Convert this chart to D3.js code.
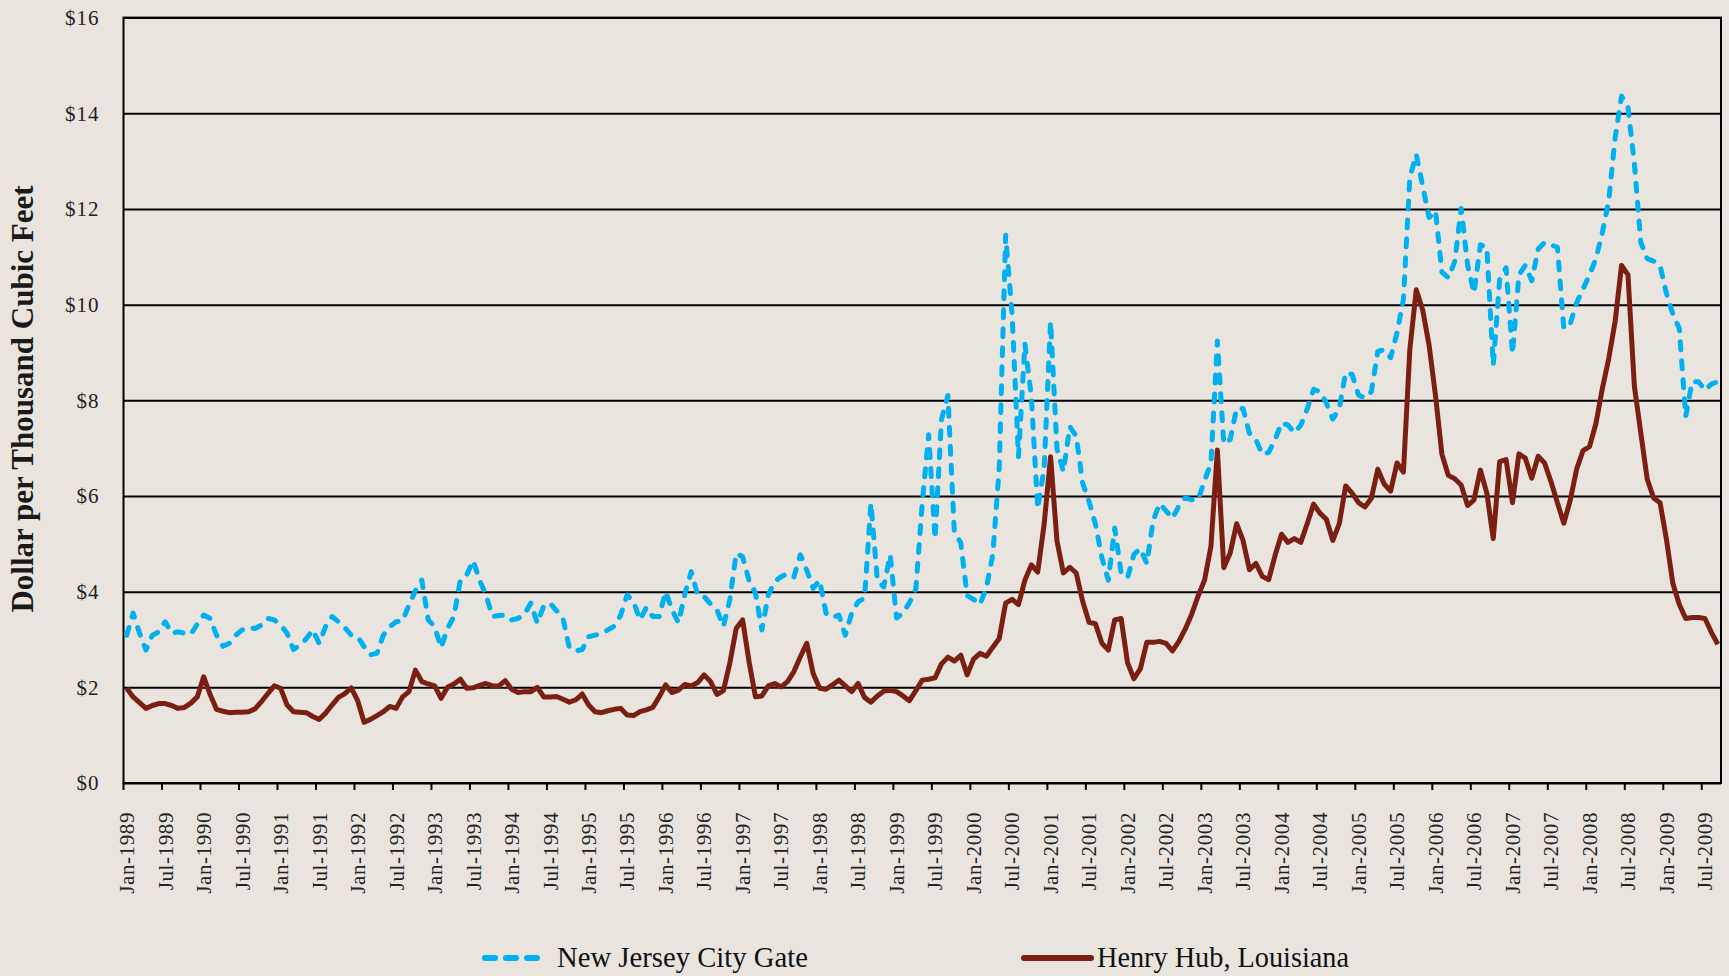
<!DOCTYPE html>
<html>
<head>
<meta charset="utf-8">
<script src="https://cdn.jsdelivr.net/npm/d3@7"></script>
<style>
body { margin: 0; background: #e9e5de; }
svg { display: block; font-family: "Liberation Serif", "Times New Roman", serif; }
</style>
</head>
<body>
<script>
// monthly prices, Jan-1989 .. Sep-2009 ($ per thousand cubic feet)
var newJersey = [
 3.09,3.55,3.13,2.78,3.09,3.16,3.37,3.13,3.16,3.13,3.11,3.32,
 3.51,3.44,3.09,2.86,2.92,3.09,3.20,3.25,3.23,3.30,3.44,3.41,
 3.30,3.13,2.79,2.88,3.02,3.20,2.92,3.27,3.48,3.37,3.25,3.09,
 3.06,2.85,2.68,2.71,3.09,3.27,3.37,3.39,3.72,4.02,4.24,3.41,
 3.27,2.83,3.23,3.48,4.24,4.35,4.65,4.24,3.93,3.48,3.50,3.51,
 3.41,3.44,3.53,3.76,3.34,3.70,3.76,3.60,3.44,2.82,2.76,2.79,
 3.06,3.09,3.12,3.20,3.28,3.51,3.93,3.79,3.41,3.67,3.48,3.48,
 4.00,3.62,3.35,3.95,4.42,3.93,3.90,3.74,3.62,3.27,3.83,4.80,
 4.73,4.24,3.97,3.20,3.93,4.21,4.31,4.38,4.31,4.77,4.45,4.07,
 4.24,3.55,3.46,3.51,3.09,3.55,3.79,3.86,5.85,4.24,4.10,4.77,
 3.45,3.55,3.77,4.05,5.85,7.28,5.10,7.60,8.10,5.25,5.02,3.92,
 3.84,3.73,4.08,4.78,6.59,11.45,9.80,6.82,9.18,8.08,5.73,6.59,
 9.65,6.98,6.51,7.45,7.25,6.27,5.88,5.41,4.71,4.24,5.33,4.39,
 4.29,4.78,4.90,4.59,5.49,5.84,5.69,5.53,5.79,5.96,5.92,5.92,
 6.32,6.69,9.24,7.09,7.18,7.83,7.83,7.31,7.18,6.87,6.91,7.18,
 7.53,7.48,7.32,7.48,7.82,8.23,8.18,7.94,7.61,7.83,8.58,8.54,
 8.11,8.05,8.18,9.02,9.06,8.89,9.41,10.11,12.66,13.14,12.48,11.82,
 11.96,10.68,10.56,10.90,12.01,10.83,10.24,11.25,11.20,8.73,10.52,10.77,
 8.97,10.62,10.82,10.50,11.16,11.30,11.25,11.20,9.50,9.60,10.04,10.33,
 10.62,10.96,11.50,12.17,13.49,14.36,14.12,12.95,11.30,10.96,10.91,10.82,
 10.23,9.80,9.50,7.66,8.39,8.39,8.21,8.34,8.39
];
var henryHub = [
 1.98,1.80,1.68,1.56,1.62,1.66,1.66,1.62,1.56,1.58,1.67,1.80,
 2.22,1.85,1.54,1.50,1.47,1.48,1.48,1.49,1.55,1.70,1.87,2.03,
 1.98,1.63,1.49,1.48,1.47,1.39,1.33,1.46,1.63,1.79,1.87,1.99,
 1.72,1.27,1.33,1.41,1.49,1.60,1.56,1.80,1.91,2.36,2.12,2.07,
 2.03,1.77,2.00,2.07,2.17,1.98,1.99,2.04,2.08,2.03,2.03,2.14,
 1.96,1.89,1.91,1.91,2.00,1.80,1.80,1.81,1.75,1.69,1.74,1.86,
 1.63,1.49,1.47,1.51,1.54,1.56,1.42,1.41,1.49,1.53,1.58,1.80,
 2.05,1.89,1.94,2.06,2.03,2.10,2.26,2.12,1.85,1.93,2.50,3.23,
 3.41,2.54,1.80,1.82,2.03,2.08,2.01,2.12,2.33,2.64,2.92,2.29,
 1.98,1.96,2.05,2.15,2.03,1.91,2.08,1.79,1.69,1.82,1.92,1.94,
 1.91,1.82,1.72,1.93,2.15,2.17,2.20,2.49,2.63,2.55,2.67,2.26,
 2.59,2.71,2.65,2.84,3.02,3.76,3.84,3.73,4.24,4.56,4.41,5.41,
 6.82,5.06,4.39,4.51,4.39,3.80,3.36,3.33,2.92,2.78,3.41,3.44,
 2.51,2.18,2.39,2.94,2.94,2.96,2.92,2.76,2.96,3.22,3.53,3.91,
 4.24,4.95,6.96,4.50,4.81,5.42,5.07,4.46,4.59,4.32,4.25,4.76,
 5.20,5.03,5.11,5.03,5.42,5.83,5.64,5.51,5.07,5.42,6.21,6.06,
 5.86,5.77,5.95,6.56,6.25,6.10,6.69,6.50,9.06,10.31,9.89,9.15,
 8.10,6.87,6.43,6.36,6.23,5.80,5.92,6.54,6.06,5.11,6.72,6.76,
 5.86,6.88,6.79,6.37,6.83,6.69,6.30,5.86,5.43,5.91,6.56,6.95,
 7.03,7.51,8.24,8.87,9.65,10.82,10.62,8.29,7.32,6.35,5.96,5.86,
 5.09,4.17,3.73,3.44,3.46,3.46,3.44,3.15,2.90
];
var yTicks = [0, 2, 4, 6, 8, 10, 12, 14, 16];
var seriesNames = ['New Jersey City Gate', 'Henry Hub, Louisiana'];
var months = d3.timeMonth.range(new Date(1989, 0, 1), new Date(2009, 9, 1));
var fmt = d3.timeFormat('%b-%Y');

var width = 1729, height = 976;
var plotLeft = 123.5, plotRight = 1721, plotTop = 17.6, plotBottom = 783;

var svg = d3.select('body').append('svg').attr('width', width).attr('height', height);
svg.append('rect').attr('width', width).attr('height', height).attr('fill', '#e9e5de');

var x = d3.scaleBand().domain(d3.range(months.length)).range([plotLeft, plotRight]);
var y = d3.scaleLinear().domain([0, 16]).range([plotBottom, plotTop]);
var cx = i => x(i) + x.bandwidth() / 2;

// y axis with gridlines
var yAxis = svg.append('g').attr('transform', 'translate(' + plotLeft + ',0)')
    .call(d3.axisLeft(y).tickValues(yTicks).tickSize(-(plotRight - plotLeft)).tickPadding(24)
          .tickFormat(d => '$' + d));
yAxis.select('.domain').remove();
yAxis.selectAll('line').attr('stroke', '#000').attr('stroke-width', 2);
yAxis.selectAll('text').attr('font-size', 21).attr('fill', '#222').attr('letter-spacing', 1)
    .attr('font-family', '"Liberation Serif", serif');

// frame
svg.append('rect').attr('x', plotLeft).attr('y', plotTop)
    .attr('width', plotRight - plotLeft).attr('height', plotBottom - plotTop)
    .attr('fill', 'none').attr('stroke', '#000').attr('stroke-width', 2);

// x ticks at every 6th month boundary, labels at category centre
var tickIdx = d3.range(0, months.length, 6);
var xg = svg.append('g');
xg.selectAll('line').data(tickIdx).enter().append('line')
    .attr('x1', d => x(d)).attr('x2', d => x(d))
    .attr('y1', plotBottom).attr('y2', plotBottom + 7)
    .attr('stroke', '#000').attr('stroke-width', 2);
xg.selectAll('text').data(tickIdx).enter().append('text')
    .attr('transform', d => 'translate(' + cx(d) + ',' + (plotBottom + 29) + ') rotate(-90)')
    .attr('text-anchor', 'end').attr('dy', '0.35em')
    .attr('font-size', 21).attr('fill', '#222').attr('letter-spacing', 0.6)
    .text(d => fmt(months[d]));

// axis title
svg.append('text')
    .attr('transform', 'translate(33,399) rotate(-90)')
    .attr('text-anchor', 'middle')
    .attr('font-size', 31).attr('font-weight', 'bold').attr('fill', '#1a1a1a')
    .text('Dollar per Thousand Cubic Feet');

var line = d3.line().x((d, i) => cx(i)).y(d => y(d));

svg.append('path').datum(newJersey)
    .attr('d', line).attr('fill', 'none')
    .attr('stroke', '#00b0f0').attr('stroke-width', 5)
    .attr('stroke-dasharray', '8,11').attr('stroke-linecap', 'round').attr('stroke-linejoin', 'round');

svg.append('path').datum(henryHub)
    .attr('d', line).attr('fill', 'none')
    .attr('stroke', '#7b1f12').attr('stroke-width', 5).attr('stroke-linejoin', 'round');

// legend
var legY = 958;
svg.append('line').attr('x1', 485).attr('x2', 543).attr('y1', legY).attr('y2', legY)
    .attr('stroke', '#00b0f0').attr('stroke-width', 6)
    .attr('stroke-dasharray', '10,11').attr('stroke-linecap', 'round');
svg.append('text').attr('x', 557).attr('y', legY + 9).attr('font-size', 30).attr('fill', '#111')
    .attr('textLength', 251).attr('lengthAdjust', 'spacingAndGlyphs')
    .text(seriesNames[0]);
svg.append('line').attr('x1', 1024).attr('x2', 1091).attr('y1', legY).attr('y2', legY)
    .attr('stroke', '#7b1f12').attr('stroke-width', 6).attr('stroke-linecap', 'round');
svg.append('text').attr('x', 1097).attr('y', legY + 9).attr('font-size', 30).attr('fill', '#111')
    .attr('textLength', 252).attr('lengthAdjust', 'spacingAndGlyphs')
    .text(seriesNames[1]);
</script>
</body>
</html>
